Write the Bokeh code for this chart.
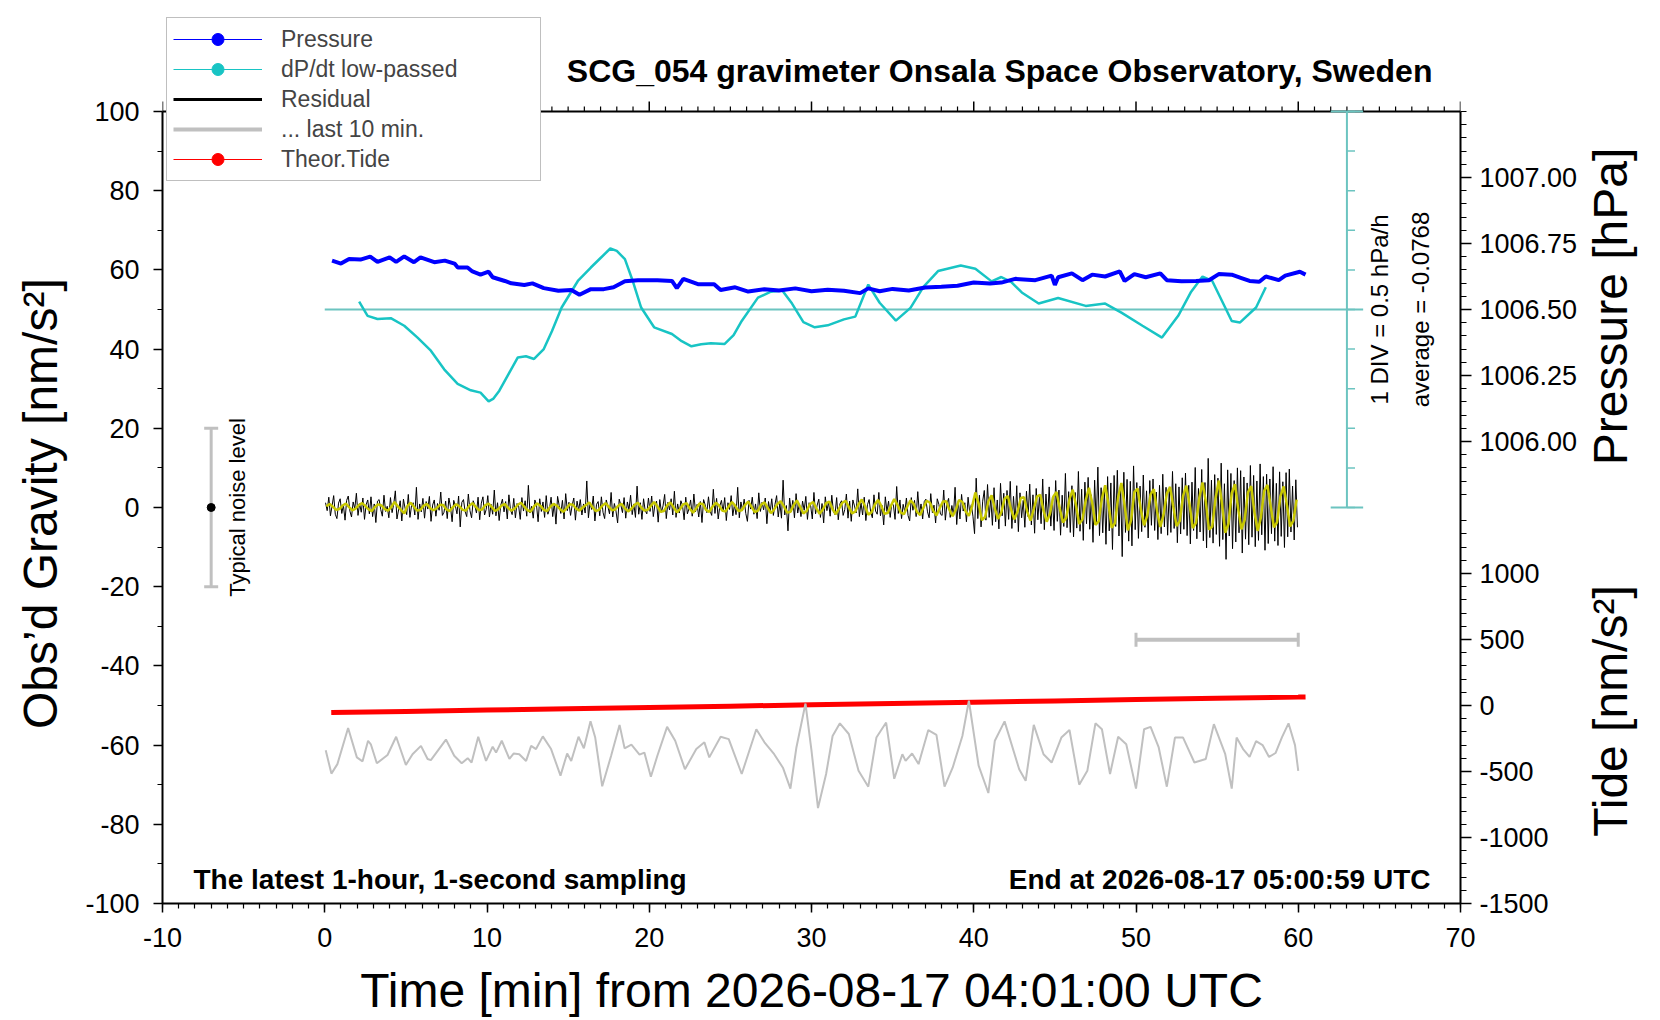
import numpy as np
from bokeh.plotting import figure
from bokeh.models import (Range1d, LinearAxis, SingleIntervalTicker, FixedTicker,
                          CustomJSTickFormatter, Label, Legend, LegendItem,
                          Whisker, TeeHead, ColumnDataSource)
from bokeh.embed import file_html
from bokeh.resources import INLINE

FONT = "Liberation Sans"
NB = "\u00a0"

# ---------------- data ----------------
# air pressure [hPa], time in minutes
press_t = [0.45, 1.0, 1.5, 2.2, 2.8, 3.25, 4.0, 4.4, 4.9, 5.5, 5.9, 6.75, 7.4, 8.0, 8.2,
           8.8, 9.1, 9.6, 10.1, 10.35, 11.1, 11.5, 12.3, 12.8, 13.5, 14.4, 15.2, 15.7,
           16.4, 17.2, 17.8, 18.5, 19.3, 20.5, 21.4, 21.7, 22.1, 23.0, 24.0, 24.4, 25.3,
           26.1, 27.1, 28.0, 29.0, 30.0, 31.0, 32.0, 33.0, 33.5, 34.2, 35.0, 36.0, 37.0,
           38.0, 39.0, 40.0, 41.0, 41.7, 42.55, 43.8, 44.8, 45.0, 45.2, 46.05, 46.7, 47.3,
           48.1, 49.0, 49.3, 49.9, 50.6, 51.5, 51.9, 52.8, 53.7, 54.5, 55.1, 55.9, 56.5,
           57.0, 57.6, 58.0, 58.8, 59.2, 60.1, 60.45]
press_hpa = [1006.685, 1006.674, 1006.691, 1006.689, 1006.700, 1006.680, 1006.697, 1006.680,
             1006.701, 1006.679, 1006.697, 1006.679, 1006.685, 1006.674, 1006.659, 1006.659,
             1006.644, 1006.632, 1006.643, 1006.622, 1006.608, 1006.599, 1006.593, 1006.599,
             1006.581, 1006.571, 1006.574, 1006.556, 1006.577, 1006.577, 1006.584, 1006.607,
             1006.611, 1006.611, 1006.608, 1006.581, 1006.616, 1006.596, 1006.596, 1006.574,
             1006.584, 1006.568, 1006.577, 1006.572, 1006.580, 1006.569, 1006.575, 1006.571,
             1006.562, 1006.580, 1006.569, 1006.578, 1006.572, 1006.583, 1006.586, 1006.590,
             1006.602, 1006.598, 1006.602, 1006.616, 1006.611, 1006.628, 1006.593, 1006.622,
             1006.637, 1006.611, 1006.632, 1006.625, 1006.644, 1006.608, 1006.634, 1006.622,
             1006.637, 1006.611, 1006.607, 1006.608, 1006.611, 1006.634, 1006.632, 1006.619,
             1006.608, 1006.605, 1006.625, 1006.611, 1006.628, 1006.643, 1006.632]

# low-passed dP/dt [hPa/h]
dpdt_t = [2.12, 2.64, 3.25, 4.07, 4.9, 5.72, 6.54, 7.36, 8.19, 9.0, 9.6, 10.1, 10.4, 10.76,
          11.3, 11.9, 12.4, 12.9, 13.5, 14.0, 14.6, 15.6, 16.4, 17.0, 17.6, 18.0, 18.5,
          19.0, 19.5, 20.3, 21.4, 22.0, 22.6, 23.2, 23.8, 24.65, 25.2, 25.7, 26.7, 27.5,
          28.2, 28.8, 29.5, 30.2, 31.0, 32.0, 32.7, 33.5, 34.2, 35.2, 36.1, 36.9, 37.8,
          39.2, 40.1, 41.1, 41.7, 42.3, 42.96, 44.0, 45.2, 46.9, 48.1, 49.1, 50.4, 51.6,
          52.6, 53.4, 54.1, 54.7, 55.9, 56.4, 57.4, 58.0]
dpdt_hpa_h = [0.10, -0.08, -0.12, -0.11, -0.205, -0.355, -0.52, -0.755, -0.94, -1.02, -1.05,
              -1.16, -1.125, -1.025, -0.825, -0.605, -0.59, -0.625, -0.50, -0.275, 0.025,
              0.36, 0.53, 0.65, 0.77, 0.74, 0.635, 0.35, 0.025, -0.225, -0.31, -0.40, -0.465,
              -0.44, -0.425, -0.435, -0.325, -0.145, 0.15, 0.225, 0.24, 0.075, -0.16, -0.225,
              -0.20, -0.125, -0.09, 0.315, 0.085, -0.14, 0.02, 0.285, 0.485, 0.555, 0.515,
              0.355, 0.41, 0.35, 0.215, 0.075, 0.145, 0.045, 0.075, -0.04, -0.205, -0.355,
              -0.08, 0.225, 0.415, 0.36, -0.145, -0.165, 0.025, 0.28]
dpdt_div = 0.5          # hPa/h per division
dpdt_average = -0.0768

# gravity residual [nm/s^2], one value per 6 s (one row = one minute)
resid = [
    1.2, -0.8, 2.6, -2.1, 0.4, 3.0, -1.7, -2.8, 1.1, 2.2,
    -1.5, 0.6, -3.2, 1.8, 2.9, -0.9, -2.4, 1.4, -0.3, 3.6,
    -2.0, 1.0, -1.2, 2.4, -3.0, 0.7, 1.9, -1.6, 2.7, -2.3,
    0.9, -3.8, 1.6, 2.0, -0.5, -2.2, 3.1, -1.0, 0.3, -2.6,
    2.5, -1.3, 0.8, 4.2, -2.9, -0.6, 1.7, -3.4, 2.1, -0.2,
    -1.8, 3.3, -2.5, 0.5, 1.2, -1.9, 5.1, -3.0, 0.9, -1.1,
    2.3, -2.7, 1.5, -0.4, 2.8, -3.5, 0.6, 1.9, -2.2, 1.0,
    -0.7, 3.9, -2.0, -1.2, 1.6, -2.8, 2.4, 0.2, -3.6, 1.8,
    0.4, -1.6, 2.9, -4.9, 1.3, 2.0, -1.0, -2.3, 3.4, -0.8,
    -2.6, 1.7, 0.5, -1.4, 2.6, -3.1, 1.1, 2.7, -1.9, -0.5,
    3.0, -2.4, 0.8, -1.7, 4.4, -2.1, 1.2, -3.3, 0.6, 2.1,
    -1.1, 1.5, -2.9, 3.2, -0.6, -1.8, 2.3, -2.6, 1.0, 0.4,
    -3.0, 2.5, -0.9, 1.7, -2.2, 5.6, -1.4, 0.3, -2.7, 1.9,
    0.7, -3.6, 2.2, -1.0, 1.4, -2.5, 3.0, -1.7, -0.4, 2.6,
    -2.3, 1.1, -4.2, 2.8, 0.5, -1.5, 1.8, -2.9, 3.5, -0.8,
    1.3, -2.0, 0.6, 2.4, -3.2, 1.6, -0.7, 2.0, -1.9, 0.9,
    -1.4, 6.7, -2.6, 1.2, -0.5, 2.9, -3.4, 0.8, 1.5, -2.1,
    2.7, -1.2, -2.8, 1.9, 0.3, -1.6, 3.8, -2.4, 1.0, -0.9,
    -3.9, 2.1, 0.6, -1.3, 2.5, -2.7, 1.4, -0.6, 3.1, -1.8,
    0.9, -2.5, 5.4, -1.7, 1.2, -3.0, 2.2, -0.8, -1.6, 2.4,
    -1.0, 2.9, -2.3, 0.7, 1.6, -3.7, 2.0, -1.2, 0.4, 3.3,
    -2.8, 1.3, -0.6, 2.2, -1.9, 4.1, -2.5, 0.9, -1.4, 1.7,
    0.5, -3.1, 2.6, -1.6, -0.3, 1.9, -2.2, 3.4, -1.1, 0.8,
    -2.4, 1.5, -3.8, 2.0, 0.6, -1.3, 2.7, -0.9, -2.0, 4.6,
    -1.5, 2.3, -2.9, 0.4, 1.8, -1.1, 2.5, -3.3, 1.2, -0.5,
    3.0, -2.1, 0.7, -1.8, 5.1, -2.6, 1.4, -0.8, 2.1, -1.5,
    -3.5, 1.8, -0.4, 2.6, -1.7, 0.9, -2.8, 3.7, -1.0, 1.3,
    -0.6, 2.4, -4.1, 1.5, -1.2, 2.2, -2.0, 0.8, 3.0, -2.4,
    1.1, -2.7, 6.9, -1.9, 0.5, -5.9, 2.4, -1.1, 1.8, -2.6,
    3.5, -1.4, 0.9, -2.3, 1.6, -0.7, 2.8, -3.0, 1.2, 0.4,
    -2.9, 3.8, -1.6, 0.6, 2.1, -2.5, 1.0, -3.9, 2.7, -0.8,
    1.4, -2.2, 3.1, -1.0, -1.8, 2.5, -3.1, 0.9, 1.7, -2.0,
    -0.5, 3.4, -2.7, 1.6, -3.5, 1.9, 0.4, -1.4, 4.7, -2.3,
    1.2, -1.9, 2.6, -3.3, 0.7, 2.0, -1.2, -2.6, 3.2, -0.9,
    -1.7, 3.8, -2.1, 0.5, -4.4, 2.7, -1.0, 1.6, -2.5, 1.1,
    0.6, -3.0, 5.3, -1.5, 1.9, -2.8, 0.8, -1.2, 2.4, -2.0,
    -3.4, 2.5, -0.7, 1.8, -2.3, 4.0, -1.6, 0.9, -2.9, 1.5,
    2.1, -1.1, -2.6, 3.5, -1.3, 0.6, -3.9, 2.2, 0.8, -1.7,
    -2.0, 4.4, -3.2, 1.0, 2.3, -2.5, 0.5, -1.9, 5.1, -4.3,
    1.7, -2.9, 3.3, -0.9, 1.2, -3.6, 2.6, -1.3, 0.7, -2.2,
    -6.6, 7.4, -2.8, 3.1, -4.9, 1.6, 4.3, -3.2, 5.8, -2.5,
    2.4, -4.5, 5.0, -3.6, 1.9, -5.4, 6.1, -2.1, 3.6, -4.7,
    4.3, -3.0, 6.6, -5.3, 2.8, -3.9, 5.5, -6.1, 3.7, -2.6,
    1.8, -5.0, 4.1, -2.3, 5.9, -4.4, 3.2, -6.5, 4.8, -3.1,
    2.9, -4.1, 7.2, -5.6, 3.4, -3.0, 5.2, -4.7, 2.6, -5.8,
    6.8, -3.5, 4.4, -7.0, 3.1, -4.8, 8.6, -5.1, 4.0, -6.3,
    5.5, -7.4, 3.8, -5.2, 9.1, -6.0, 4.6, -8.3, 6.4, -4.1,
    7.6, -5.5, 3.2, -8.8, 6.9, -4.3, 10.2, -7.1, 5.0, -6.4,
    4.7, -9.3, 7.8, -5.9, 6.2, -10.6, 8.1, -4.8, 9.4, -7.2,
    5.8, -12.4, 8.9, -6.3, 7.1, -8.5, 6.6, -9.7, 10.5, -5.6,
    6.3, -7.8, 5.4, -6.1, 8.2, -5.0, 4.2, -7.7, 6.8, -4.5,
    7.2, -5.8, 3.9, -8.1, 5.6, -6.6, 8.4, -4.9, 5.1, -7.0,
    4.6, -6.3, 9.1, -5.3, 6.0, -8.9, 5.2, -6.7, 7.5, -5.5,
    8.7, -7.1, 5.6, -9.2, 6.4, -5.8, 10.1, -7.9, 4.8, -6.2,
    9.6, -8.4, 6.3, -10.2, 12.4, -7.6, 6.9, -9.0, 8.3, -6.8,
    7.4, -9.8, 11.2, -8.1, 6.0, -13.1, 9.5, -7.2, 8.6, -10.4,
    6.8, -8.7, 10.0, -6.4, 9.3, -11.5, 7.7, -8.0, 6.2, -9.4,
    10.6, -7.5, 8.1, -9.9, 6.7, -8.3, 11.0, -6.9, 7.8, -10.8,
    8.4, -9.1, 7.2, -6.6, 10.3, -8.5, 6.1, -9.6, 9.0, -7.3,
    6.5, -10.1, 8.8, -7.4, 9.7, -6.2, 5.4, -8.2, 7.0, -5.0,
]
resid_t = np.linspace(0.05, 59.95, len(resid))

# low-passed residual, one value per 12 s
resid_lp = [
    0.3, 0.9, 0.2, -0.6, -0.4, 0.5, 1.0, 0.1, -0.7, -0.3,
    0.6, 1.1, 0.4, -0.5, -0.9, 0.2, 0.8, 0.5, -0.4, -0.8,
    0.1, 1.4, 0.3, -0.6, -1.5, 0.4, 1.2, 0.2, -0.8, -0.6,
    0.5, 0.9, -0.2, -0.7, -0.2, 0.7, 0.6, -0.5, -0.9, 0.1,
    0.8, 0.3, -0.6, -0.8, 0.4, 1.1, 0.2, -0.7, -0.5, 0.6,
    1.0, 0.1, -0.9, -0.4, 0.5, 0.9, -0.1, -0.8, -0.3, 0.7,
    1.2, 0.2, -0.7, -1.0, 0.3, 1.0, 0.4, -0.6, -0.9, 0.2,
    0.9, 0.5, -0.4, -1.1, -0.2, 0.8, 0.7, -0.3, -0.8, 0.0,
    0.6, 1.3, 0.1, -0.9, -0.6, 0.4, 1.1, 0.2, -0.7, -0.5,
    0.5, 0.9, -0.2, -1.0, -0.3, 0.7, 1.2, 0.0, -0.8, -0.6,
    0.4, 1.4, 0.3, -1.1, -0.9, 0.5, 1.3, 0.1, -1.2, -0.4,
    0.8, 1.1, -0.3, -1.3, -0.2, 1.0, 0.9, -0.6, -1.1, 0.2,
    1.2, 0.5, -0.8, -1.0, 0.3, 1.4, 0.4, -0.9, -0.7, 0.6,
    1.5, 0.2, -1.2, -0.8, 0.7, 1.3, -0.1, -1.4, -0.5, 0.9,
    1.6, 0.3, -1.3, -1.1, 0.6, 1.8, 0.2, -1.5, -0.9, 0.8,
    1.4, -0.2, -1.6, -0.5, 1.1, 1.5, -0.4, -1.7, -0.3, 1.2,
    1.7, 0.1, -1.5, -1.0, 0.8, 2.0, 0.3, -1.8, -1.2, 0.7,
    1.9, 0.4, -1.6, -1.4, 0.5, 2.1, 0.6, -1.3, -1.7, 0.2,
    1.8, 0.9, -1.1, -1.9, 0.0, 1.7, 1.2, -0.8, -2.0, -0.2,
    1.5, 1.6, -0.6, -2.2, -0.5, 1.9, 1.4, -1.0, -2.1, 0.3,
    3.8, 1.0, -3.2, -2.4, 1.5, 3.1, -0.3, -2.9, -1.2, 2.2,
    2.9, -0.5, -3.0, -1.0, 2.4, 2.6, -1.1, -3.3, -0.4, 2.8,
    3.2, -0.8, -3.6, -1.5, 2.7, 3.9, -0.2, -3.8, -2.6, 2.1,
    4.5, 0.6, -4.2, -3.0, 1.8, 5.0, 1.2, -4.4, -3.5, 2.3,
    5.6, 0.9, -5.1, -4.0, 2.6, 6.2, 0.4, -5.8, -3.2, 3.9,
    4.8, -0.6, -4.5, -2.0, 3.3, 4.6, -1.0, -4.9, -1.8, 3.5,
    5.2, 0.2, -4.7, -3.4, 2.9, 5.5, 0.8, -5.2, -3.9, 2.4,
    6.3, 1.5, -5.6, -4.8, 2.2, 6.8, 1.0, -6.4, -4.1, 3.6,
    5.9, -0.4, -5.5, -3.1, 3.8, 5.4, -1.2, -5.9, -2.5, 4.2,
    5.7, 0.3, -5.0, -3.7, 2.8, 5.3, 0.6, -4.8, -3.3, 2.0,
]
resid_lp_t = np.linspace(0.1, 59.9, len(resid_lp))

# last 10 min of the residual, stretched over the hour (plotted around -62)
last10_t = [0.06, 0.41, 0.78, 1.44, 1.98, 2.33, 2.67, 2.84, 3.21, 3.87, 4.40, 5.0, 5.41, 5.93,
            6.34, 6.54, 7.47, 7.98, 8.44, 8.81, 9.05, 9.46, 9.94, 10.35, 10.56, 10.91, 11.38,
            11.65, 11.99, 12.41, 12.72, 13.02, 13.44, 13.95, 14.53, 14.94, 15.19, 15.64,
            15.97, 16.38, 16.67, 17.1, 17.65, 18.17, 18.48, 18.9, 19.4, 19.7, 20.1, 20.5,
            21.1, 21.6, 22.2, 22.9, 23.4, 23.7, 24.4, 24.9, 25.7, 26.6, 27.1, 27.7, 28.25,
            28.7, 29.07, 29.63, 30.0, 30.4, 30.9, 31.3, 31.75, 32.3, 32.9, 33.5, 34.0, 34.6,
            35.1, 35.6, 35.8, 36.2, 36.6, 37.2, 37.7, 38.2, 38.7, 39.3, 39.7, 40.3, 40.9,
            41.3, 41.9, 42.8, 43.2, 43.7, 44.3, 44.8, 45.4, 45.9, 46.5, 47.0, 47.5, 47.9,
            48.4, 48.9, 49.4, 50.0, 50.5, 50.9, 51.4, 51.9, 52.4, 52.9, 53.6, 54.3, 54.8,
            55.5, 55.9, 56.2, 56.6, 57.0, 57.4, 57.8, 58.2, 58.6, 59.0, 59.4, 59.8, 60.0]
last10 = [-61.3, -67.2, -64.8, -55.7, -63.1, -64.1, -58.9, -59.8, -64.6, -62.5, -57.9, -65.0,
          -62.3, -60.2, -63.5, -63.8, -58.6, -62.7, -64.6, -63.3, -64.4, -57.9, -64.0, -60.4,
          -61.9, -58.9, -63.5, -62.1, -62.3, -64.0, -60.2, -61.0, -57.8, -61.0, -67.7, -62.1,
          -64.0, -57.9, -60.8, -54.0, -58.1, -70.4, -62.7, -54.9, -60.8, -59.9, -62.4, -61.9,
          -68.0, -62.7, -55.4, -58.9, -66.1, -61.0, -59.3, -63.1, -57.9, -58.5, -67.3, -56.0,
          -59.3, -62.3, -65.8, -71.0, -60.6, -49.5, -61.4, -75.9, -67.3, -57.7, -54.5, -57.2,
          -66.5, -70.5, -58.1, -54.3, -68.5, -62.3, -64.0, -62.1, -64.8, -56.2, -57.4, -70.5,
          -65.7, -57.7, -48.8, -65.2, -72.1, -58.9, -54.0, -66.1, -69.0, -54.9, -62.3, -64.4,
          -58.1, -56.2, -70.0, -66.5, -54.5, -56.0, -67.3, -57.9, -59.8, -71.0, -56.0, -55.4,
          -60.6, -70.5, -58.1, -58.1, -64.4, -63.5, -54.7, -62.3, -71.0, -58.1, -61.0, -63.0,
          -59.0, -60.0, -63.0, -62.0, -58.0, -54.5, -60.0, -66.5]

# theoretical tide [nm/s^2]
tide_t = [0.4, 5, 10, 15, 20, 25, 30, 35, 40, 45, 50, 55, 60, 60.45]
tide_nms2 = [-54, -45, -35, -25, -15, -5, 5, 15, 25, 35, 45, 55, 64, 65]

# typical noise level and 10-minute scale bar
noise_x, noise_lo, noise_hi = [-7.0], [-20.0], [20.0]
scale_y, scale_lo, scale_hi = [-33.4], [50.0], [60.0]

# right-hand axis: pressure labels on the upper half, tide labels on the lower half
press_ticks = [1006.00, 1006.25, 1006.50, 1006.75, 1007.00]
tide_ticks = [-1500, -1000, -500, 0, 500, 1000]

BLUE, CYAN, TEAL = "#0000ff", "#18c4c4", "#6cc4c0"
GRAY, RED, YELLOW = "#c0c0c0", "#ff0000", "#c8c800"

# how the secondary quantities sit on the gravity scale
Y_LO, Y_HI = -100.0, 100.0
Y_TOP = 125.5             # frame continues above the box to hold legend and title


def to_press(y):
    return 1006.5 + (y - 50.0) * 0.015


def to_tide(y):
    return (y + 50.0) * 30.0


def to_dpdt(y):
    return (y - 50.0) / 20.0


# ---------------- figure ----------------
FRAME_H = 893
p = figure(frame_width=1298, frame_height=FRAME_H, title=None,
           x_range=Range1d(-10, 70), y_range=Range1d(Y_LO, Y_TOP),
           output_backend="svg", toolbar_location=None,
           min_border_left=162, min_border_right=196,
           min_border_top=10, min_border_bottom=113)
p.grid.visible = False
p.outline_line_color = None
p.extra_y_ranges = {"press": Range1d(to_press(Y_LO), to_press(Y_TOP)),
                    "tide": Range1d(to_tide(Y_LO), to_tide(Y_TOP)),
                    "dpdt": Range1d(to_dpdt(Y_LO), to_dpdt(Y_TOP))}
px_per_y = FRAME_H / (Y_TOP - Y_LO)

int_fmt = CustomJSTickFormatter(code="return tick.toFixed(0);")


def style(ax, tick_out, minor_out):
    ax.axis_line_width = 2
    ax.axis_line_color = "black"
    ax.major_tick_in = 0
    ax.minor_tick_in = 0
    ax.major_tick_out = tick_out
    ax.minor_tick_out = minor_out
    ax.major_tick_line_width = 1.5
    ax.minor_tick_line_width = 1.2
    ax.major_label_text_font = FONT
    ax.major_label_text_font_size = "27px"
    ax.major_label_text_color = "black"
    ax.axis_label_text_font = FONT
    ax.axis_label_text_font_style = "normal"
    ax.axis_label_text_font_size = "48px"
    ax.axis_label_text_color = "black"


xa = p.xaxis[0]
xa.ticker = SingleIntervalTicker(interval=10, num_minor_ticks=10)
xa.formatter = int_fmt
xa.axis_label = "Time [min] from 2026-08-17 04:01:00 UTC"
style(xa, 9, 5)
xa.major_label_standoff = 15
xa.axis_label_standoff = 14

ya = p.yaxis[0]
ya.ticker = SingleIntervalTicker(interval=20, num_minor_ticks=2)
ya.formatter = int_fmt
ya.bounds = (Y_LO, Y_HI)
ya.axis_label = "Obs’d Gravity [nm/s²]" + NB * 7
style(ya, 9, 5)
ya.major_label_standoff = 14
ya.axis_label_standoff = 15

# one right axis carries both the pressure and the tide scale
p_lo, p_hi = to_press(Y_LO), to_press(Y_TOP)
t_lo, t_hi = to_tide(Y_LO), to_tide(Y_TOP)
k = (t_hi - t_lo) / (p_hi - p_lo)
off = p_lo - t_lo / k
press_minor = list(np.arange(1005.80, to_press(Y_HI) + 0.001, 0.05))
tide_minor = [off + t / k for t in range(-1500, 1401, 100)]
right = LinearAxis(
    y_range_name="press", bounds=(p_lo, to_press(Y_HI)),
    ticker=FixedTicker(ticks=press_ticks + [off + t / k for t in tide_ticks],
                       minor_ticks=press_minor + tide_minor),
    formatter=CustomJSTickFormatter(
        args=dict(split=1005.75, off=off, k=k),
        code="return tick > split ? tick.toFixed(2) : String(Math.round((tick - off) * k));"))
style(right, 11, 6)
right.major_label_standoff = 8
props = right.properties()
if "axis_label_align" in props and "axis_label_orientation" in props:
    # read bottom-to-top, starting at the lower end of the axis
    right.axis_label_orientation = np.pi / 2
    right.axis_label_align = "start"
    right.axis_label = NB * 5 + "Tide [nm/s²]" + NB * 9 + "Pressure [hPa]"
    right.axis_label_standoff = 30
else:
    right.axis_label = NB * 5 + "Pressure [hPa]" + NB * 8 + "Tide [nm/s²]"
    right.axis_label_standoff = 6
p.add_layout(right, "right")

# top edge of the box with its ticks
top_major = list(range(-10, 71, 10))
top_minor = [m for m in range(-10, 71) if m % 10]
p.segment(x0=[-10], y0=[Y_HI], x1=[70], y1=[Y_HI], line_color="black", line_width=2)
p.segment(x0=top_major, y0=[Y_HI] * len(top_major), x1=top_major,
          y1=[Y_HI + 10 / px_per_y] * len(top_major), line_color="black", line_width=1.5)
p.segment(x0=top_minor, y0=[Y_HI] * len(top_minor), x1=top_minor,
          y1=[Y_HI + 5 / px_per_y] * len(top_minor), line_color="black", line_width=1.2)

# dP/dt scale: zero line and 1-DIV ticks
div_ticks = [i * dpdt_div for i in range(-5, 6)]
p.segment(x0=[0.0], y0=[0.0], x1=[64.0], y1=[0.0], y_range_name="dpdt",
          line_color=TEAL, line_width=2)
p.segment(x0=[63.0], y0=[div_ticks[0]], x1=[63.0], y1=[div_ticks[-1]],
          y_range_name="dpdt", line_color=TEAL, line_width=2)
p.segment(x0=[63.0] * len(div_ticks), y0=div_ticks, x1=[63.5] * len(div_ticks),
          y1=div_ticks, y_range_name="dpdt", line_color=TEAL, line_width=1.5)
p.segment(x0=[62.0, 62.0], y0=[div_ticks[0], div_ticks[-1]], x1=[64.0, 64.0],
          y1=[div_ticks[0], div_ticks[-1]], y_range_name="dpdt", line_color=TEAL, line_width=2)

p.line(dpdt_t, dpdt_hpa_h, y_range_name="dpdt", line_color=CYAN, line_width=2.5)
p.line(press_t, press_hpa, y_range_name="press", line_color=BLUE, line_width=4)
p.line(resid_t, resid, line_color="black", line_width=1.0)
p.line(resid_lp_t, resid_lp, line_color=YELLOW, line_width=2.5)
p.line(tide_t, tide_nms2, y_range_name="tide", line_color=RED, line_width=5)
p.line(last10_t, last10, line_color=GRAY, line_width=2)

noise_src = ColumnDataSource(dict(x=noise_x, lo=noise_lo, hi=noise_hi))
p.add_layout(Whisker(source=noise_src, base="x", lower="lo", upper="hi", dimension="height",
                     line_color=GRAY, line_width=3,
                     upper_head=TeeHead(size=14, line_color=GRAY, line_width=3),
                     lower_head=TeeHead(size=14, line_color=GRAY, line_width=3)))
p.scatter(noise_x, [0.0], marker="circle", size=8, color="black")

scale_src = ColumnDataSource(dict(y=scale_y, lo=scale_lo, hi=scale_hi))
p.add_layout(Whisker(source=scale_src, base="y", lower="lo", upper="hi", dimension="width",
                     line_color=GRAY, line_width=4,
                     upper_head=TeeHead(size=14, line_color=GRAY, line_width=3),
                     lower_head=TeeHead(size=14, line_color=GRAY, line_width=3)))


# ---------------- texts ----------------
def label(x, y, text, size, align="left", baseline="alphabetic", angle=0.0, bold=False):
    p.add_layout(Label(x=x, y=y, text=text, text_font=FONT, text_font_size=size,
                       text_align=align, text_baseline=baseline, angle=angle,
                       text_font_style="bold" if bold else "normal", text_color="black"))


label(68.27, 110.3, "SCG_054 gravimeter Onsala Space Observatory, Sweden", "32px",
      align="right", bold=True)
label(-8.09, -94.0, "The latest 1-hour, 1-second sampling", "28px", bold=True)
label(68.15, -94.0, "End at 2026-08-17 05:00:59 UTC", "28px", align="right", bold=True)
label(65.0, 50, "1 DIV = %.1f hPa/h" % dpdt_div, "24px", align="center",
      baseline="middle", angle=np.pi / 2)
label(67.53, 50, "average = %.4f" % dpdt_average, "24px", align="center",
      baseline="middle", angle=np.pi / 2)
label(-5.38, 0, "Typical noise level", "22px", align="center", baseline="middle",
      angle=np.pi / 2)

# ---------------- legend (glyph-only renderers, nothing drawn in the box) ----------------
NAN = [float("nan")]
lg_p = [p.line(NAN, NAN, line_color=BLUE, line_width=1),
        p.scatter(NAN, NAN, marker="circle", size=8, color=BLUE)]
lg_c = [p.line(NAN, NAN, line_color=CYAN, line_width=1),
        p.scatter(NAN, NAN, marker="circle", size=8, color=CYAN)]
lg_r = [p.line(NAN, NAN, line_color="black", line_width=3)]
lg_g = [p.line(NAN, NAN, line_color=GRAY, line_width=4)]
lg_t = [p.line(NAN, NAN, line_color=RED, line_width=1),
        p.scatter(NAN, NAN, marker="circle", size=8, color=RED)]
legend = Legend(items=[LegendItem(label="Pressure", renderers=lg_p),
                       LegendItem(label="dP/dt low-passed", renderers=lg_c),
                       LegendItem(label="Residual", renderers=lg_r),
                       LegendItem(label="... last 10 min.", renderers=lg_g),
                       LegendItem(label="Theor.Tide", renderers=lg_t)],
                location=(4, 722), padding=6, spacing=0, margin=0,
                glyph_width=89, glyph_height=30, label_height=30, label_width=253,
                label_standoff=19, border_line_color="#808080", border_line_width=1,
                background_fill_color="white", background_fill_alpha=1.0,
                label_text_font=FONT, label_text_font_size="23px")
p.add_layout(legend, "center")

open("out.html", "w").write(file_html(p, INLINE))
